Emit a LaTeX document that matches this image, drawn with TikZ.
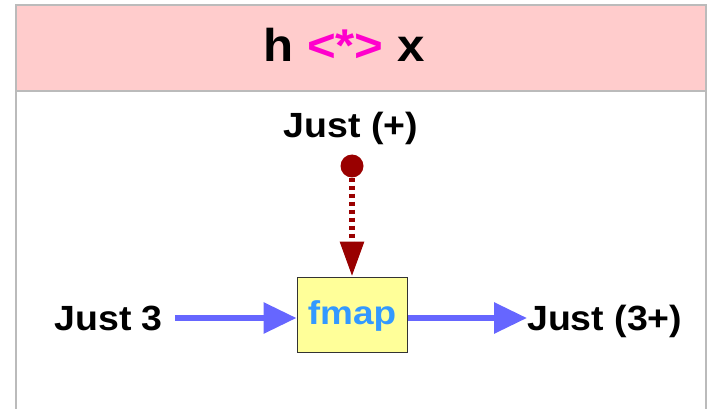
\documentclass[tikz,border=0pt]{standalone}
\usepackage{fontspec}
\setmainfont{Liberation Sans}
\newfontfamily\widesans{Liberation Sans}[FakeStretch=1.07]
\newfontfamily\widersans{Liberation Sans}[FakeStretch=1.12]
\usetikzlibrary{arrows.meta}
\definecolor{headerpink}{HTML}{FFCCCC}
\definecolor{framegray}{HTML}{BBBBBB}
\definecolor{opmagenta}{HTML}{FF00CC}
\definecolor{flowblue}{HTML}{6666FF}
\definecolor{liftred}{HTML}{990000}
\definecolor{boxyellow}{HTML}{FFFF99}
\definecolor{fmapblue}{HTML}{3399FF}
\tikzset{
  label/.style={font=\widesans\fontsize{35}{40}\selectfont\bfseries, inner sep=0pt},
  flow/.style={draw=flowblue, line width=6pt, -{Triangle[length=33pt,width=30pt]}},
  lift/.style={draw=liftred, line width=6pt, dash pattern=on 4pt off 4pt,
    -{Triangle[length=35pt,width=23pt]}},
  fbox/.style={draw=black!80, line width=1pt, fill=boxyellow, minimum width=110pt,
    minimum height=75pt, inner sep=0pt, text depth=3pt,
    font=\widersans\fontsize{33}{40}\selectfont\bfseries, text=fmapblue},
}
\begin{document}
\begin{tikzpicture}[x=1pt, y=-1pt]
\useasboundingbox (0,0) rectangle (707,409);
% frame and header band
\fill[headerpink] (16,5) rectangle (706,91);
\draw[framegray, line width=1.5pt] (16,420) -- (16,5) -- (706,5) -- (706,420);
\draw[framegray, line width=1.5pt] (16,91) -- (706,91);
% title
\node[anchor=base, inner sep=0pt, font=\widesans\fontsize{46}{50}\selectfont\bfseries] (title) at (344,62)
  {h \textcolor{opmagenta}{<*>} x};
% nodes
\node[fbox] (fmap) at (352,314.5) {fmap};
\node[label, anchor=base] (justplus) at (351,138) {Just (+)};
\node[label, anchor=base east] (just3) at (163,330) {Just 3};
\node[label, anchor=base west] (result) at (527,330) {Just (3+)};
\coordinate (inStart) at (175,318);
\coordinate (outEnd) at (527,318);
\node[circle, fill=liftred, minimum size=23pt, inner sep=0pt] (dot) at (352,166) {};
% connectors
\draw[flow] (inStart) -- (fmap.west |- inStart);
\draw[flow] (fmap.east |- outEnd) -- (outEnd);
\draw[lift] (dot.south) -- (fmap.north);
\end{tikzpicture}
\end{document}
